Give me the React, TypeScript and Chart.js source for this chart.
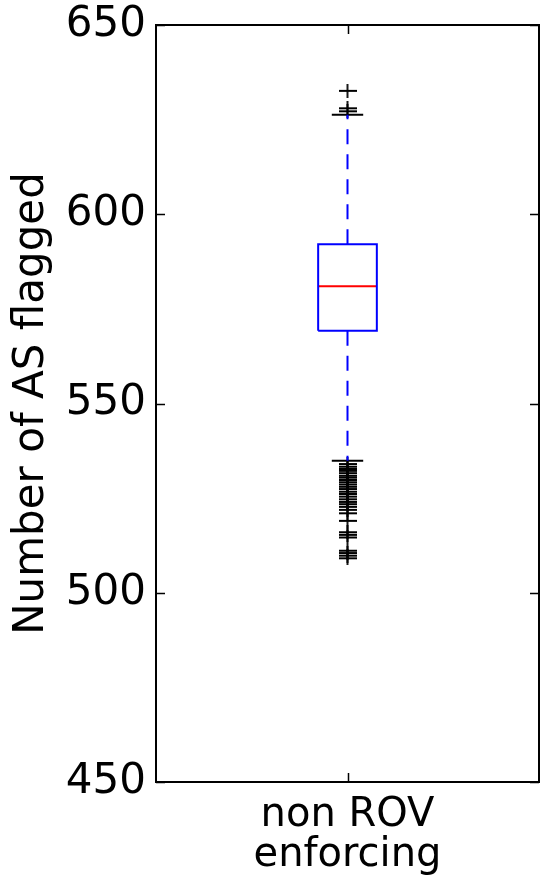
import React, { useEffect, useRef } from 'react';
import { Chart, registerables } from 'chart.js';

Chart.register(...registerables);

// ---- data ----
const categoryLabel = ['non ROV', 'enforcing'];
const yTickValues = [450, 500, 550, 600, 650];
const boxPosition = 1;
const quartiles = [569.2, 581.0, 592.1]; // q1, median, q3
const whiskers = [534.9, 626.3]; // low, high
const upperOutliers = [627.2, 628.0, 632.6];
const lowerOutliers = [
  534.0, 533.3, 532.7, 532.2, 531.6, 530.9, 530.4, 529.8, 529.2, 528.6,
  528.0, 527.4, 526.7, 526.1, 525.4, 524.7, 524.0, 523.4, 522.7, 521.9,
  521.0, 519.0, 516.0, 515.3, 514.6, 511.1, 510.5, 509.8, 509.1,
];

const BOX_HALF = 0.0766;
const CAP_HALF = 0.041;
const FONT = "'DejaVu Sans', 'Liberation Sans', sans-serif";
const TARGET_AREA = { left: 156, top: 25, right: 541, bottom: 782 };

function makePlus(): HTMLCanvasElement {
  const c = document.createElement('canvas');
  c.width = 18;
  c.height = 14;
  const g = c.getContext('2d')!;
  g.strokeStyle = '#000';
  g.lineWidth = 1.8;
  g.beginPath();
  g.moveTo(0, 7);
  g.lineTo(18, 7);
  g.moveTo(9, 0);
  g.lineTo(9, 14);
  g.stroke();
  return c;
}

const framePlugin = {
  id: 'frameTicks',
  afterDatasetsDraw(chart: any) {
    const { ctx, chartArea: a, scales } = chart;
    const x = scales.x;
    const y = scales.y;
    ctx.save();
    ctx.strokeStyle = '#000';
    ctx.lineWidth = 1.5;
    const tl = 9;
    ctx.beginPath();
    yTickValues.forEach((v) => {
      const py = Math.round(y.getPixelForValue(v)) + 0.5;
      ctx.moveTo(a.left, py);
      ctx.lineTo(a.left + tl, py);
      ctx.moveTo(a.right, py);
      ctx.lineTo(a.right - tl, py);
    });
    const px = Math.round(x.getPixelForValue(boxPosition)) + 0.5;
    ctx.moveTo(px, a.bottom);
    ctx.lineTo(px, a.bottom - tl);
    ctx.moveTo(px, a.top);
    ctx.lineTo(px, a.top + tl);
    ctx.stroke();
    ctx.lineWidth = 2;
    ctx.strokeRect(a.left, a.top, a.right - a.left, a.bottom - a.top);
    ctx.restore();
  },
};

export default function App() {
  const ref = useRef<HTMLCanvasElement>(null);

  useEffect(() => {
    const canvas = ref.current;
    if (!canvas) return;
    const [q1, med, q3] = quartiles;
    const [wLo, wHi] = whiskers;
    const p = boxPosition;
    const plus = makePlus();
    const lineDs = (data: any[], color: string, dash: number[] = []) => ({
      type: 'scatter' as const,
      data,
      showLine: true,
      borderColor: color,
      borderWidth: 2,
      borderDash: dash,
      pointRadius: 0,
      pointBorderWidth: 0,
      fill: false,
    });
    const chart = new Chart(canvas, {
      type: 'scatter',
      data: {
        datasets: [
          lineDs([{ x: p, y: q3 }, { x: p, y: wHi }], '#0000ff', [15, 10]),
          lineDs([{ x: p, y: q1 }, { x: p, y: wLo }], '#0000ff', [15, 10]),
          lineDs(
            [
              { x: p - BOX_HALF, y: q1 },
              { x: p + BOX_HALF, y: q1 },
              { x: p + BOX_HALF, y: q3 },
              { x: p - BOX_HALF, y: q3 },
              { x: p - BOX_HALF, y: q1 },
            ],
            '#0000ff'
          ),
          lineDs([{ x: p - BOX_HALF, y: med }, { x: p + BOX_HALF, y: med }], '#ff0000'),
          lineDs([{ x: p - CAP_HALF, y: wHi }, { x: p + CAP_HALF, y: wHi }], '#000000'),
          lineDs([{ x: p - CAP_HALF, y: wLo }, { x: p + CAP_HALF, y: wLo }], '#000000'),
          {
            type: 'scatter',
            data: [...upperOutliers, ...lowerOutliers].map((v) => ({ x: p, y: v })),
            pointStyle: plus as any,
            pointRadius: 0.5,
            pointBorderWidth: 0,
            borderWidth: 0,
            showLine: false,
          },
        ],
      },
      options: {
        animation: false,
        responsive: false,
        events: [],
        layout: { padding: { top: 25, right: 2, left: 0, bottom: 0 } },
        plugins: { legend: { display: false }, tooltip: { enabled: false } },
        scales: {
          x: {
            type: 'linear',
            min: 0.5,
            max: 1.5,
            grid: { display: false, drawTicks: false },
            border: { display: false },
            afterBuildTicks: (s: any) => {
              s.ticks = [{ value: boxPosition }];
            },
            afterFit: (s: any) => {
              s.height = 99;
            },
            ticks: {
              autoSkip: false,
              maxRotation: 0,
              minRotation: 0,
              padding: 14,
              color: '#000',
              font: { family: FONT, size: 40, lineHeight: 1.0 },
              callback: () => categoryLabel,
            },
          },
          y: {
            type: 'linear',
            min: 450,
            max: 650,
            grid: { display: false, drawTicks: false },
            border: { display: false },
            afterBuildTicks: (s: any) => {
              s.ticks = yTickValues.map((v) => ({ value: v }));
            },
            afterFit: (s: any) => {
              s.width = 156;
            },
            ticks: {
              padding: 10,
              color: '#000',
              font: { family: FONT, size: 42, lineHeight: 0.5 },
            },
            title: {
              display: true,
              text: 'Number of AS flagged',
              color: '#000',
              font: { family: FONT, size: 42 },
              padding: { top: 7, bottom: 0 },
            },
          },
        },
      },
      plugins: [framePlugin],
    } as any);

    // pin the plot area to the reference frame
    for (let i = 0; i < 3; i++) {
      const a = chart.chartArea;
      const cur = (chart.options.layout as any).padding;
      const pad = { top: cur.top, left: cur.left, right: cur.right, bottom: cur.bottom };
      const dTop = TARGET_AREA.top - a.top;
      const dLeft = TARGET_AREA.left - a.left;
      const dRight = a.right - TARGET_AREA.right;
      const dBottom = a.bottom - TARGET_AREA.bottom;
      if (Math.abs(dTop) + Math.abs(dLeft) + Math.abs(dRight) + Math.abs(dBottom) < 0.5) break;
      pad.top += dTop;
      pad.left += dLeft;
      pad.right += dRight;
      pad.bottom += dBottom;
      (chart.options.layout as any).padding = pad;
      chart.update();
    }
    return () => chart.destroy();
  }, []);

  return (
    <div style={{ position: 'absolute', left: 0, top: 0, width: 543, height: 881, background: '#fff' }}>
      <canvas ref={ref} width={543} height={881} />
    </div>
  );
}
